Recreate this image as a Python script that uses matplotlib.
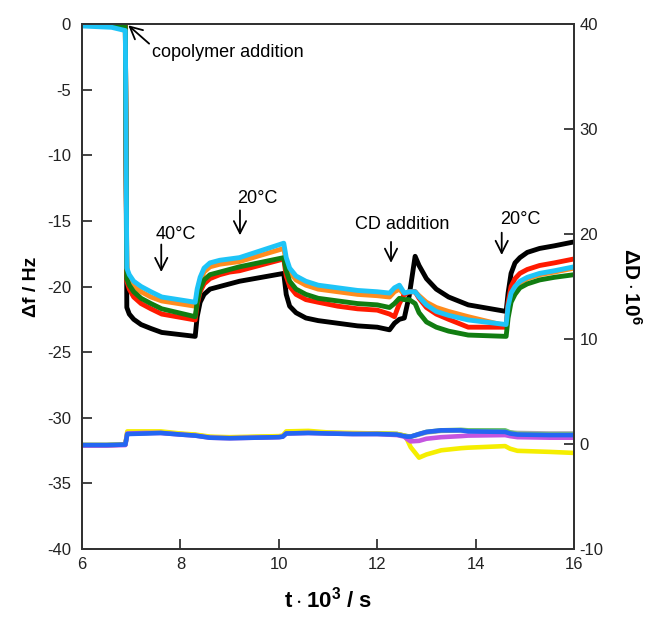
import numpy as np
import matplotlib
matplotlib.use("Agg")
import matplotlib.pyplot as plt

plt.rcParams['font.family'] = ['Liberation Sans', 'DejaVu Sans']
plt.rcParams['mathtext.fontset'] = 'custom'
plt.rcParams['mathtext.rm'] = 'Liberation Sans'
plt.rcParams['mathtext.bf'] = 'Liberation Sans:bold'

# time (10^3 s) for frequency traces
t_f = [6.0, 6.3, 6.6, 6.88, 6.91, 6.96, 7.05, 7.2, 7.4, 7.62, 8.30, 8.34, 8.40, 8.48,
       8.6, 8.8, 9.0, 9.2, 10.10, 10.15, 10.22, 10.35, 10.55, 10.8, 11.2, 11.6, 12.0,
       12.25, 12.35, 12.45, 12.55, 12.65, 12.77, 12.85, 13.0, 13.2, 13.45, 13.85, 14.62,
       14.66, 14.72, 14.8, 14.9, 15.05, 15.3, 15.6, 16.0]

f_black = [0, 0, 0, 0, -21.6, -22.1, -22.5, -22.9, -23.2, -23.5, -23.8, -22.3, -21.2, -20.6,
           -20.2, -20.0, -19.8, -19.6, -19.0, -20.6, -21.5, -22.0, -22.4, -22.6, -22.8, -23.0, -23.1,
           -23.3, -22.8, -22.5, -22.4, -20.7, -17.7, -18.4, -19.4, -20.2, -20.8, -21.4, -21.9,
           -20.5, -19.0, -18.2, -17.8, -17.4, -17.1, -16.9, -16.6]
f_cyan = [-0.15, -0.2, -0.25, -0.5, -18.6, -19.1, -19.6, -20.0, -20.4, -20.8, -21.2, -20.2, -19.3, -18.6,
          -18.2, -18.0, -17.9, -17.8, -16.7, -17.8, -18.6, -19.2, -19.6, -19.9, -20.1, -20.3, -20.4,
          -20.5, -20.1, -19.9, -20.5, -20.4, -20.4, -20.8, -21.4, -21.9, -22.2, -22.55, -22.9,
          -21.5, -20.5, -20.0, -19.6, -19.3, -19.0, -18.8, -18.5]
f_orange = [-0.1, -0.1, -0.15, -0.3, -19.0, -19.5, -20.0, -20.4, -20.8, -21.1, -21.5, -20.5, -19.6, -18.9,
            -18.5, -18.3, -18.2, -18.1, -17.1, -18.1, -18.9, -19.5, -19.9, -20.2, -20.4, -20.6, -20.7,
            -20.8, -20.4, -20.2, -20.6, -20.4, -20.4, -20.7, -21.2, -21.6, -21.9, -22.3, -23.0,
            -21.6, -20.6, -20.1, -19.7, -19.4, -19.1, -18.9, -18.6]
f_green = [0, 0, 0, -0.2, -19.4, -19.9, -20.4, -20.9, -21.3, -21.7, -22.3, -21.2, -20.2, -19.5,
           -19.1, -18.9, -18.7, -18.5, -17.8, -18.8, -19.6, -20.2, -20.6, -20.9, -21.1, -21.3, -21.4,
           -21.6, -21.3, -20.9, -21.0, -21.0, -21.3, -22.0, -22.7, -23.1, -23.4, -23.7, -23.8,
           -22.4, -21.2, -20.6, -20.1, -19.8, -19.5, -19.3, -19.1]
f_red = [0, 0, 0, 0, -19.6, -20.2, -20.8, -21.3, -21.7, -22.1, -22.55, -21.4, -20.4, -19.8,
         -19.4, -19.1, -18.9, -18.8, -17.9, -19.2, -20.0, -20.6, -21.0, -21.2, -21.5, -21.7, -21.8,
         -22.1, -22.3, -21.3, -20.6, -20.4, -20.4, -20.9, -21.6, -22.1, -22.5, -23.1, -23.1,
         -21.2, -20.0, -19.4, -19.0, -18.7, -18.4, -18.2, -17.9]

# time (10^3 s) for dissipation traces
t_d = [6.0, 6.5, 6.88, 6.92, 7.3, 7.6, 8.0, 8.3, 8.6, 9.0, 9.5, 10.0, 10.08, 10.15, 10.6, 11.0,
       11.5, 12.0, 12.4, 12.55, 12.6, 12.68, 12.85, 13.0, 13.3, 13.7, 13.85, 14.6, 14.7, 14.85,
       15.5, 16.0]

d_gray = [-0.1, -0.1, -0.05, 1.1, 1.1, 1.1, 0.95, 0.85, 0.65, 0.6, 0.65, 0.7, 0.75, 1.1, 1.15, 1.05,
          1.0, 1.0, 0.95, 0.8, 0.75, 0.7, 0.9, 1.1, 1.25, 1.3, 1.25, 1.2, 1.1, 1.05, 1.0, 1.0]
d_green = [-0.1, -0.1, -0.05, 1.05, 1.05, 1.1, 0.95, 0.85, 0.65, 0.6, 0.65, 0.7, 0.75, 1.05, 1.1, 1.05,
           1.0, 1.0, 0.95, 0.8, 0.75, 0.7, 0.95, 1.15, 1.3, 1.35, 1.3, 1.3, 1.1, 0.95, 0.9, 0.9]
d_yellow = [-0.1, -0.1, -0.05, 1.2, 1.2, 1.2, 1.0, 0.9, 0.7, 0.65, 0.7, 0.75, 0.8, 1.2, 1.25, 1.1,
            1.05, 1.0, 0.95, 0.8, 0.5, -0.3, -1.3, -1.0, -0.6, -0.4, -0.35, -0.2, -0.45, -0.65, -0.75, -0.85]
d_purple = [-0.15, -0.15, -0.1, 1.0, 1.05, 1.05, 0.9, 0.8, 0.6, 0.55, 0.6, 0.65, 0.7, 1.0, 1.05, 1.0,
            0.95, 0.95, 0.85, 0.7, 0.5, 0.25, 0.3, 0.5, 0.65, 0.75, 0.8, 0.85, 0.75, 0.65, 0.6, 0.6]
d_blue = [-0.1, -0.1, -0.05, 0.95, 1.0, 1.05, 0.9, 0.8, 0.6, 0.55, 0.6, 0.65, 0.7, 1.0, 1.05, 1.0,
          0.95, 0.95, 0.9, 0.75, 0.7, 0.7, 0.95, 1.15, 1.3, 1.3, 1.2, 1.15, 1.0, 0.9, 0.85, 0.85]

fig = plt.figure(figsize=(6.46, 6.19), dpi=100)
ax = fig.add_axes([0.127, 0.1131, 0.7616, 0.8481])
ax2 = ax.twinx()

# dissipation on right axis
for vals, col in [(d_gray, '#a8a8a8'), (d_green, '#6cc46c'), (d_yellow, '#f5ee00'),
                  (d_purple, '#c455e0'), (d_blue, '#2466f2')]:
    ax2.plot(t_d, vals, color=col, lw=3.3, solid_joinstyle='round')

ax.set_zorder(ax2.get_zorder() + 1)
ax.patch.set_visible(False)

# frequency on left axis
for vals, col in [(f_black, '#000000'), (f_orange, '#ff8c1e'), (f_red, '#ff1a00'),
                  (f_green, '#117d11'), (f_cyan, '#1ec4f7')]:
    ax.plot(t_f, vals, color=col, lw=3.5, solid_joinstyle='round')

ax.set_xlim(6, 16)
ax.set_ylim(-40, 0)
ax2.set_ylim(-10, 40)
ax.set_xticks([6, 8, 10, 12, 14, 16])
ax.set_yticks([0, -5, -10, -15, -20, -25, -30, -35, -40])
ax.set_yticklabels(['0', '-5', '-10', '-15', '-20', '-25', '-30', '-35', '-40'])
ax2.set_yticks([40, 30, 20, 10, 0, -10])
ax2.set_yticklabels(['40', '30', '20', '10', '0', '-10'])

for a in (ax, ax2):
    a.tick_params(direction='in', length=7, width=1.2, labelsize=12, colors='#222222')
    for s in a.spines.values():
        s.set_linewidth(1.4)
        s.set_color('#333333')
ax.tick_params(axis='y', pad=8)
ax.tick_params(axis='x', pad=6)
ax2.tick_params(axis='y', pad=4)

ax.set_xlabel(r'$\mathbf{t \cdot 10^3}$ / s', fontsize=16, fontweight='bold', labelpad=10)
ax.set_ylabel('Δf / Hz', fontsize=14, fontweight='bold', labelpad=5)
ax2.set_ylabel(r'$\mathbf{\Delta D \cdot 10^6}$', fontsize=15, rotation=270, labelpad=28)

arrow = dict(arrowstyle='->', lw=1.3, color='black', mutation_scale=22)
ax.annotate('copolymer addition', xy=(6.94, -0.1), xytext=(7.42, -2.2),
            fontsize=13, va='center', ha='left', arrowprops=dict(arrow, shrinkA=0, shrinkB=0,
            relpos=(0, 0.9)))
notes = [('40°C', 7.91, -16.0, 7.61, -16.8, -18.9),
         ('20°C', 9.57, -13.3, 9.21, -14.2, -16.1),
         ('CD addition', 12.5, -15.3, 12.28, -16.6, -18.2),
         ('20°C', 14.9, -14.9, 14.53, -15.9, -17.6)]
for txt, tx, ty, ax_t, y0, y1 in notes:
    ax.text(tx, ty, txt, fontsize=13, ha='center', va='center')
    ax.annotate('', xy=(ax_t, y1), xytext=(ax_t, y0),
                arrowprops=dict(arrow, shrinkA=0, shrinkB=0))

fig.savefig('out.png', dpi=100)
